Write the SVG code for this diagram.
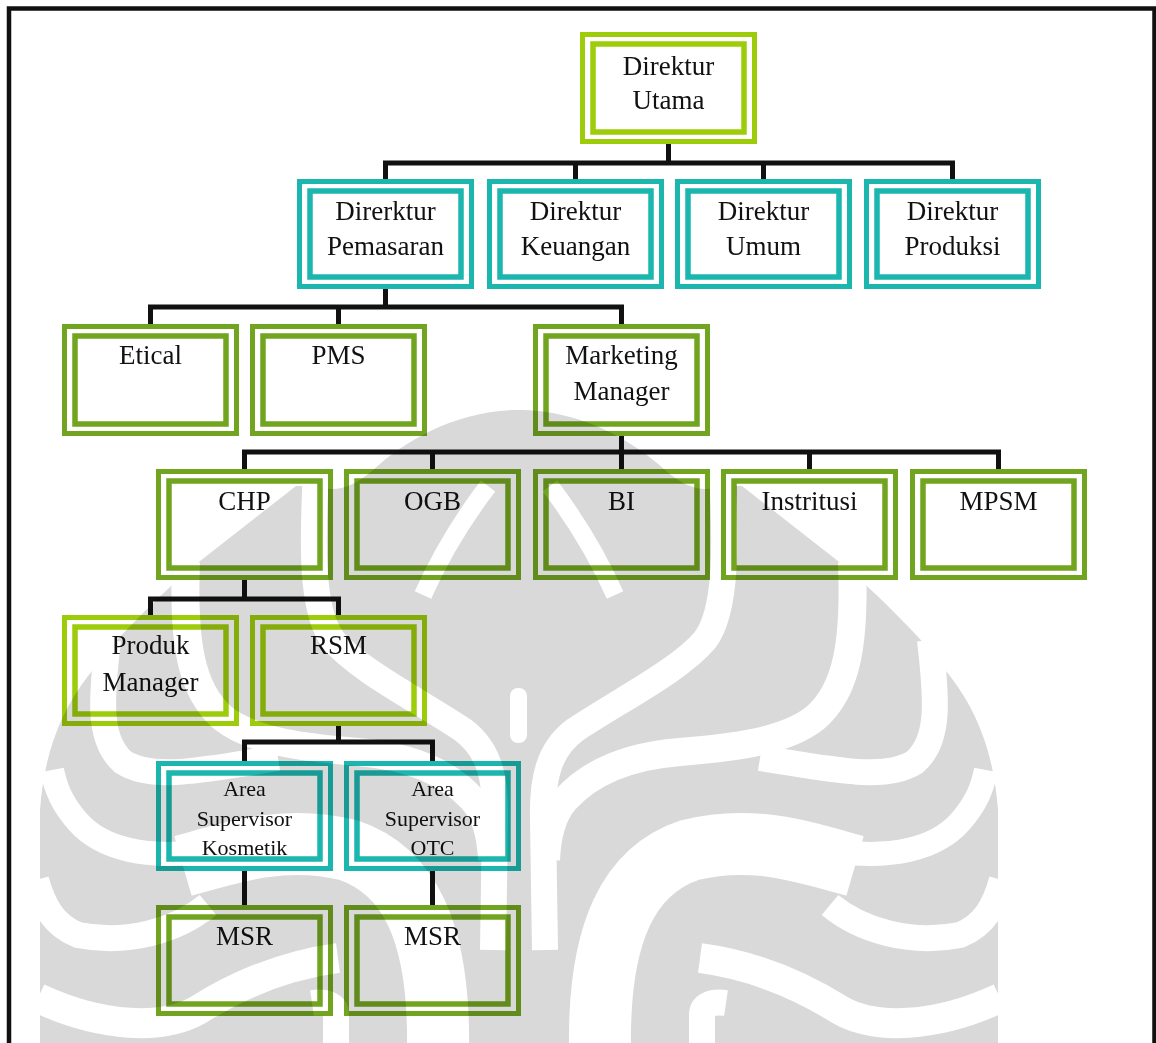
<svg xmlns="http://www.w3.org/2000/svg" xmlns:xlink="http://www.w3.org/1999/xlink" width="1156" height="1043" viewBox="0 0 1156 1043">
  <style>
    .o { fill: none; stroke-width: 5; }
    .i { fill: none; stroke-width: 5.5; }
    .lime { stroke: #9ccc0a; }
    .teal { stroke: #1bb6ae; }
    .green { stroke: #72a51f; }
    text { stroke: none; fill: #111; font-family: "Liberation Serif", "Times New Roman", serif; font-size: 27px; text-anchor: middle; }
    text.sm { font-size: 22px; }
    .links path { fill: none; stroke: #111; stroke-width: 5; stroke-linejoin: miter; }
  </style>
  <defs>
    <!-- right half of the background emblem; the left half is its mirror image -->
    <g id="emblem-half" fill="none" stroke="#fff">
      <path fill="#d9d9d9" stroke="none" d="M513,410 L519,410 C578,410 630,438 665,470 C688,490 705,492 722,486 L742,486 L852,572 C880,598 905,622 928,648 L950,676 C978,712 994,755 998,810 L998,1043 L513,1043 Z"/>
      <path stroke-width="18" d="M550,486 C572,515 595,550 615,595"/>
      <path stroke-width="26" d="M721,450 C726,540 728,610 705,640 C680,670 620,700 575,730 C548,750 542,780 543,820 L545,950"/>
      <path stroke-width="28" d="M852,562 C855,640 848,690 815,718 C785,742 730,748 680,752 C630,756 590,772 565,800 C552,815 547,835 546,860"/>
      <path stroke-width="26" d="M930,640 C937,700 940,740 915,762 C890,778 850,772 810,766 L760,758"/>
      <path stroke-width="62" d="M600,1050 C598,930 630,870 690,850 C750,835 800,850 855,866"/>
      <path stroke-width="24" d="M840,852 C890,858 935,850 960,822 C975,805 982,790 986,770"/>
      <path stroke-width="26" d="M830,905 C860,930 910,945 960,935 C985,925 995,905 1002,880"/>
      <path stroke-width="30" d="M700,958 C760,966 805,988 840,1010 C875,1030 935,1028 1000,998"/>
      <path stroke-width="26" d="M702,1050 L702,1015 C702,1005 712,1001 726,1003"/>
    </g>
  </defs>

  <!-- page frame -->
  <path d="M9,1043 V8.5 H1154.5 V1043" fill="none" stroke="#111" stroke-width="4.5"/>

  <!-- connectors -->
  <g class="links" id="connectors">
    <path d="M668.5,144 V163"/>
    <path d="M385.5,179 V163 H952.5 V179 M575.5,163 V179 M763.5,163 V179"/>
    <path d="M385.5,289 V307"/>
    <path d="M150.5,324 V307 H621.5 V324 M338.5,307 V324"/>
    <path d="M621.5,436 V452"/>
    <path d="M244.5,469 V452 H998.5 V469 M432.5,452 V469 M621.5,452 V469 M809.5,452 V469"/>
    <path d="M244.5,580 V599"/>
    <path d="M150.5,615 V599 H338.5 V615"/>
    <path d="M338.5,726 V742"/>
    <path d="M244.5,761 V742 H432.5 V761"/>
    <path d="M244.5,871 V905 M432.5,871 V905"/>
  </g>

  <!-- level 1 -->
  <g id="direktur-utama" class="lime">
    <rect class="o" x="582.5" y="34.5" width="172" height="107"/>
    <rect class="i" x="593" y="44" width="151" height="88"/>
    <text x="668.5" y="75">Direktur</text>
    <text x="668.5" y="109">Utama</text>
  </g>

  <!-- level 2 -->
  <g id="direktur-pemasaran" class="teal">
    <rect class="o" x="299.5" y="181.5" width="172" height="105"/>
    <rect class="i" x="310" y="191" width="151" height="86"/>
    <text x="385.5" y="220">Direrktur</text>
    <text x="385.5" y="255">Pemasaran</text>
  </g>
  <g id="direktur-keuangan" class="teal">
    <rect class="o" x="489.5" y="181.5" width="172" height="105"/>
    <rect class="i" x="500" y="191" width="151" height="86"/>
    <text x="575.5" y="220">Direktur</text>
    <text x="575.5" y="255">Keuangan</text>
  </g>
  <g id="direktur-umum" class="teal">
    <rect class="o" x="677.5" y="181.5" width="172" height="105"/>
    <rect class="i" x="688" y="191" width="151" height="86"/>
    <text x="763.5" y="220">Direktur</text>
    <text x="763.5" y="255">Umum</text>
  </g>
  <g id="direktur-produksi" class="teal">
    <rect class="o" x="866.5" y="181.5" width="172" height="105"/>
    <rect class="i" x="877" y="191" width="151" height="86"/>
    <text x="952.5" y="220">Direktur</text>
    <text x="952.5" y="255">Produksi</text>
  </g>

  <!-- level 3 -->
  <g id="etical" class="green">
    <rect class="o" x="64.5" y="326.5" width="172" height="107"/>
    <rect class="i" x="75" y="336" width="151" height="88"/>
    <text x="150.5" y="364">Etical</text>
  </g>
  <g id="pms" class="green">
    <rect class="o" x="252.5" y="326.5" width="172" height="107"/>
    <rect class="i" x="263" y="336" width="151" height="88"/>
    <text x="338.5" y="364">PMS</text>
  </g>
  <g id="marketing-manager" class="green">
    <rect class="o" x="535.5" y="326.5" width="172" height="107"/>
    <rect class="i" x="546" y="336" width="151" height="88"/>
    <text x="621.5" y="364">Marketing</text>
    <text x="621.5" y="400">Manager</text>
  </g>

  <!-- level 4 -->
  <g id="chp" class="green">
    <rect class="o" x="158.5" y="471.5" width="172" height="106"/>
    <rect class="i" x="169" y="481" width="151" height="87"/>
    <text x="244.5" y="510">CHP</text>
  </g>
  <g id="ogb" class="green">
    <rect class="o" x="346.5" y="471.5" width="172" height="106"/>
    <rect class="i" x="357" y="481" width="151" height="87"/>
    <text x="432.5" y="510">OGB</text>
  </g>
  <g id="bi" class="green">
    <rect class="o" x="535.5" y="471.5" width="172" height="106"/>
    <rect class="i" x="546" y="481" width="151" height="87"/>
    <text x="621.5" y="510">BI</text>
  </g>
  <g id="instritusi" class="green">
    <rect class="o" x="723.5" y="471.5" width="172" height="106"/>
    <rect class="i" x="734" y="481" width="151" height="87"/>
    <text x="809.5" y="510">Instritusi</text>
  </g>
  <g id="mpsm" class="green">
    <rect class="o" x="912.5" y="471.5" width="172" height="106"/>
    <rect class="i" x="923" y="481" width="151" height="87"/>
    <text x="998.5" y="510">MPSM</text>
  </g>

  <!-- level 5 -->
  <g id="produk-manager" class="lime">
    <rect class="o" x="64.5" y="617.5" width="172" height="106"/>
    <rect class="i" x="75" y="627" width="151" height="87"/>
    <text x="150.5" y="654">Produk</text>
    <text x="150.5" y="691">Manager</text>
  </g>
  <g id="rsm" class="lime">
    <rect class="o" x="252.5" y="617.5" width="172" height="106"/>
    <rect class="i" x="263" y="627" width="151" height="87"/>
    <text x="338.5" y="654">RSM</text>
  </g>

  <!-- level 6 -->
  <g id="area-supervisor-kosmetik" class="teal">
    <rect class="o" x="158.5" y="763.5" width="172" height="105"/>
    <rect class="i" x="169" y="773" width="151" height="86"/>
    <text class="sm" x="244.5" y="796">Area</text>
    <text class="sm" x="244.5" y="826">Supervisor</text>
    <text class="sm" x="244.5" y="855">Kosmetik</text>
  </g>
  <g id="area-supervisor-otc" class="teal">
    <rect class="o" x="346.5" y="763.5" width="172" height="105"/>
    <rect class="i" x="357" y="773" width="151" height="86"/>
    <text class="sm" x="432.5" y="796">Area</text>
    <text class="sm" x="432.5" y="826">Supervisor</text>
    <text class="sm" x="432.5" y="855">OTC</text>
  </g>

  <!-- level 7 -->
  <g id="msr-kosmetik" class="green">
    <rect class="o" x="158.5" y="907.5" width="172" height="106"/>
    <rect class="i" x="169" y="917" width="151" height="87"/>
    <text x="244.5" y="945">MSR</text>
  </g>
  <g id="msr-otc" class="green">
    <rect class="o" x="346.5" y="907.5" width="172" height="106"/>
    <rect class="i" x="357" y="917" width="151" height="87"/>
    <text x="432.5" y="945">MSR</text>
  </g>

  <!-- background emblem, multiplied over the chart -->
  <g style="mix-blend-mode:multiply">
    <use xlink:href="#emblem-half"/>
    <use xlink:href="#emblem-half" transform="matrix(-1 0 0 1 1038 0)"/>
    <rect x="510" y="688" width="17" height="55" rx="8" fill="#fff"/>
  </g>
</svg>
